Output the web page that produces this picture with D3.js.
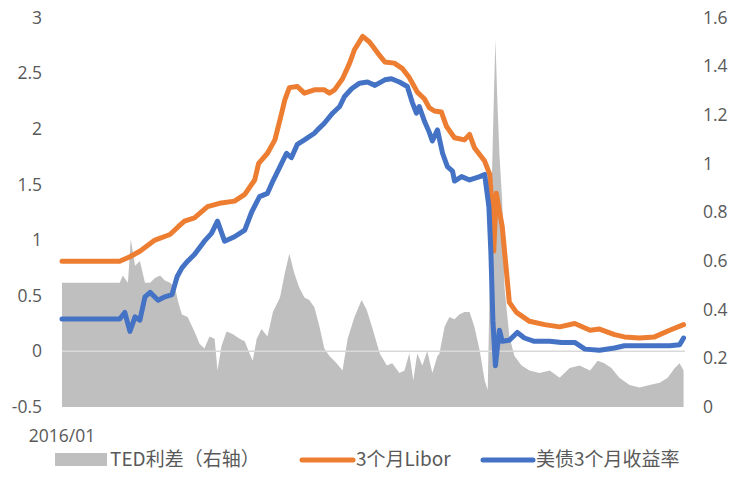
<!DOCTYPE html>
<html>
<head>
<meta charset="utf-8">
<script src="https://cdn.jsdelivr.net/npm/d3@7"></script>
<style>
  body { margin: 0; background: #fff; }
  svg text { fill: #595959; }
</style>
</head>
<body>
<svg id="chart" width="734" height="500"></svg>
<script>
// 3个月Libor（左轴）
var libor = [
  ["2016-01-01",0.81],["2016-07-22",0.81],["2016-08-27",0.85],["2016-10-01",0.90],["2016-11-23",1.00],
  ["2017-01-15",1.05],["2017-02-13",1.12],["2017-03-07",1.17],["2017-04-11",1.20],["2017-05-27",1.30],
  ["2017-07-08",1.33],["2017-08-30",1.35],["2017-10-05",1.41],["2017-11-09",1.54],["2017-11-23",1.69],
  ["2017-12-24",1.78],["2018-01-19",1.90],["2018-02-06",2.08],["2018-02-23",2.26],["2018-03-11",2.37],
  ["2018-04-08",2.38],["2018-05-03",2.32],["2018-06-07",2.35],["2018-07-12",2.35],["2018-07-30",2.32],
  ["2018-08-17",2.35],["2018-09-14",2.45],["2018-10-09",2.59],["2018-10-26",2.71],["2018-11-24",2.83],
  ["2018-12-18",2.78],["2019-01-16",2.68],["2019-02-10",2.60],["2019-03-15",2.59],["2019-04-13",2.54],
  ["2019-05-07",2.46],["2019-06-04",2.33],["2019-06-29",2.27],["2019-07-16",2.19],["2019-08-03",2.16],
  ["2019-08-28",2.15],["2019-09-15",2.02],["2019-10-13",1.92],["2019-11-17",1.90],["2019-12-05",1.95],
  ["2019-12-22",1.83],["2020-01-27",1.71],["2020-02-14",1.59],["2020-02-25",1.18],["2020-02-28",0.90],
  ["2020-03-08",1.42],["2020-03-29",1.12],["2020-04-13",0.71],["2020-04-23",0.44],["2020-05-18",0.35],
  ["2020-07-03",0.27],["2020-08-25",0.24],["2020-10-17",0.22],["2020-12-09",0.25],["2021-02-01",0.19],
  ["2021-03-06",0.20],["2021-04-28",0.15],["2021-06-02",0.13],["2021-07-25",0.12],["2021-09-16",0.13],
  ["2021-11-08",0.19],["2021-12-27",0.24]
];

// 美债3个月收益率（左轴）
var ust3m = [
  ["2016-01-01",0.29],["2016-07-22",0.29],["2016-08-09",0.35],["2016-08-27",0.18],["2016-09-14",0.31],
  ["2016-10-01",0.28],["2016-10-19",0.49],["2016-11-06",0.53],["2016-12-04",0.46],["2016-12-28",0.49],
  ["2017-01-22",0.51],["2017-02-09",0.67],["2017-02-26",0.75],["2017-03-18",0.81],["2017-04-11",0.87],
  ["2017-05-16",0.99],["2017-06-10",1.06],["2017-07-01",1.17],["2017-07-26",0.99],["2017-08-30",1.03],
  ["2017-10-05",1.09],["2017-10-29",1.25],["2017-11-26",1.39],["2017-12-24",1.42],["2018-01-12",1.53],
  ["2018-02-06",1.66],["2018-03-01",1.78],["2018-03-18",1.74],["2018-04-08",1.86],["2018-05-03",1.90],
  ["2018-06-07",1.96],["2018-06-18",1.99],["2018-07-12",2.05],["2018-08-10",2.14],["2018-09-04",2.20],
  ["2018-09-21",2.29],["2018-10-16",2.36],["2018-11-13",2.41],["2018-12-11",2.42],["2019-01-06",2.39],
  ["2019-02-10",2.44],["2019-03-05",2.45],["2019-04-02",2.42],["2019-04-30",2.38],["2019-05-17",2.24],
  ["2019-06-01",2.14],["2019-06-11",2.20],["2019-06-29",2.07],["2019-07-16",1.97],["2019-07-27",1.89],
  ["2019-08-14",1.99],["2019-09-01",1.78],["2019-09-18",1.66],["2019-10-06",1.62],["2019-10-13",1.53],
  ["2019-11-07",1.57],["2019-12-05",1.54],["2020-01-10",1.57],["2020-01-27",1.59],["2020-02-11",1.30],
  ["2020-02-18",0.89],["2020-02-25",0.28],["2020-03-05",-0.13],["2020-03-12",0.04],["2020-03-19",0.19],
  ["2020-03-29",0.09],["2020-04-23",0.10],["2020-05-21",0.17],["2020-06-15",0.12],["2020-07-20",0.09],
  ["2020-09-12",0.09],["2020-10-24",0.08],["2020-12-09",0.08],["2021-01-14",0.02],["2021-03-06",0.01],
  ["2021-04-28",0.03],["2021-06-02",0.05],["2021-07-25",0.05],["2021-09-16",0.05],["2021-11-08",0.05],
  ["2021-12-13",0.06],["2021-12-27",0.12]
];

// TED利差（右轴）
var ted = [
  ["2016-01-01",0.51],["2016-07-22",0.51],["2016-08-02",0.54],["2016-08-20",0.51],["2016-08-30",0.69],
  ["2016-09-14",0.58],["2016-10-01",0.60],["2016-10-19",0.51],["2016-11-06",0.51],["2016-11-23",0.53],
  ["2016-12-11",0.54],["2016-12-28",0.52],["2017-01-15",0.51],["2017-02-02",0.49],["2017-02-13",0.43],
  ["2017-02-26",0.38],["2017-03-18",0.37],["2017-04-11",0.31],["2017-04-29",0.26],["2017-05-16",0.24],
  ["2017-06-03",0.29],["2017-06-21",0.28],["2017-07-01",0.15],["2017-07-15",0.25],["2017-08-02",0.31],
  ["2017-08-23",0.30],["2017-09-17",0.28],["2017-10-05",0.27],["2017-10-22",0.22],["2017-11-02",0.19],
  ["2017-11-16",0.28],["2017-12-03",0.32],["2017-12-24",0.29],["2018-01-12",0.39],["2018-02-06",0.45],
  ["2018-02-23",0.55],["2018-03-11",0.63],["2018-03-28",0.55],["2018-04-15",0.49],["2018-05-03",0.45],
  ["2018-05-20",0.44],["2018-06-07",0.41],["2018-06-25",0.33],["2018-07-12",0.24],["2018-07-30",0.21],
  ["2018-08-24",0.18],["2018-09-14",0.15],["2018-10-02",0.28],["2018-10-26",0.37],["2018-11-20",0.44],
  ["2018-12-08",0.40],["2018-12-29",0.32],["2019-01-23",0.22],["2019-02-17",0.17],["2019-03-08",0.18],
  ["2019-04-02",0.14],["2019-04-20",0.15],["2019-05-07",0.22],["2019-05-21",0.11],["2019-06-04",0.22],
  ["2019-06-22",0.17],["2019-07-09",0.23],["2019-07-27",0.14],["2019-08-14",0.21],["2019-08-21",0.22],
  ["2019-09-08",0.33],["2019-09-25",0.37],["2019-10-13",0.36],["2019-10-30",0.38],["2019-11-17",0.39],
  ["2019-12-05",0.39],["2019-12-22",0.33],["2020-01-10",0.23],["2020-01-27",0.11],["2020-02-07",0.07],
  ["2020-02-18",0.77],["2020-02-28",1.25],["2020-03-05",1.51],["2020-03-12",1.25],["2020-03-19",1.04],
  ["2020-03-29",0.84],["2020-04-06",0.49],["2020-04-23",0.29],["2020-05-11",0.21],["2020-06-05",0.17],
  ["2020-07-03",0.15],["2020-08-07",0.14],["2020-09-12",0.15],["2020-10-17",0.12],["2020-11-21",0.16],
  ["2020-12-26",0.17],["2021-02-01",0.15],["2021-02-28",0.19],["2021-03-23",0.18],["2021-04-17",0.16],
  ["2021-05-15",0.12],["2021-06-20",0.09],["2021-07-25",0.08],["2021-08-29",0.09],["2021-10-04",0.10],
  ["2021-11-01",0.12],["2021-11-26",0.16],["2021-12-13",0.18],["2021-12-27",0.15]
];

var leftTicks = [-0.5, 0, 0.5, 1, 1.5, 2, 2.5, 3];
var rightTicks = [0, 0.2, 0.4, 0.6, 0.8, 1, 1.2, 1.4, 1.6];
var xLabel = "2016/01";
var legendNames = ["TED利差（右轴）", "3个月Libor", "美债3个月收益率"];

var parse = d3.timeParse("%Y-%m-%d");
var svg = d3.select("#chart");

var x = d3.scaleTime()
  .domain([parse("2016-01-01"), parse("2022-01-01")])
  .range([62, 685]);
var yL = d3.scaleLinear().domain([-0.5, 3]).range([407, 17.5]);
var yR = d3.scaleLinear().domain([0, 1.6]).range([407, 17.5]);

// TED area
var area = d3.area()
  .x(function(d) { return x(parse(d[0])); })
  .y0(yR(0))
  .y1(function(d) { return yR(d[1]); });
svg.append("path")
  .datum(ted)
  .attr("d", area)
  .attr("fill", "#bfbfbf");

// zero line of left axis
svg.append("line")
  .attr("x1", 62).attr("x2", 685)
  .attr("y1", yL(0)).attr("y2", yL(0))
  .attr("stroke", "#d9d9d9").attr("stroke-width", 1.5);

function lineL() {
  return d3.line()
    .x(function(d) { return x(parse(d[0])); })
    .y(function(d) { return yL(d[1]); });
}
svg.append("path").datum(libor).attr("d", lineL())
  .attr("fill", "none").attr("stroke", "#ed7d31").attr("stroke-width", 5)
  .attr("stroke-linejoin", "round").attr("stroke-linecap", "round");
svg.append("path").datum(ust3m).attr("d", lineL())
  .attr("fill", "none").attr("stroke", "#4472c4").attr("stroke-width", 5)
  .attr("stroke-linejoin", "round").attr("stroke-linecap", "round");

// axes
var fmt = function(d) { return String(d); };
var gl = svg.append("g").attr("transform", "translate(45,0)")
  .call(d3.axisLeft(yL).tickValues(leftTicks).tickSize(0).tickPadding(3).tickFormat(fmt));
var gr = svg.append("g").attr("transform", "translate(700,0)")
  .call(d3.axisRight(yR).tickValues(rightTicks).tickSize(0).tickPadding(3).tickFormat(fmt));
[gl, gr].forEach(function(g) {
  g.select(".domain").remove();
  g.selectAll("text").attr("font-family", "'Open Sans', sans-serif").attr("font-size", 17.5).style("fill", "#595959");
});

svg.append("text")
  .attr("x", x(parse("2016-01-01"))).attr("y", 442)
  .attr("text-anchor", "middle")
  .attr("font-family", "'Open Sans', sans-serif").attr("font-size", 17.5)
  .text(xLabel);

// legend
var lg = svg.append("g").attr("font-family", "'Noto Sans CJK SC', sans-serif").attr("font-size", 19);
lg.append("rect").attr("x", 55).attr("y", 453).attr("width", 52).attr("height", 13).attr("fill", "#bfbfbf");
lg.append("text").attr("x", 110).attr("y", 466).text(legendNames[0]);
lg.append("line").attr("x1", 302).attr("x2", 353).attr("y1", 460).attr("y2", 460)
  .attr("stroke", "#ed7d31").attr("stroke-width", 5).attr("stroke-linecap", "round");
lg.append("text").attr("x", 356).attr("y", 466).text(legendNames[1]);
lg.append("line").attr("x1", 483).attr("x2", 533).attr("y1", 460).attr("y2", 460)
  .attr("stroke", "#4472c4").attr("stroke-width", 5).attr("stroke-linecap", "round");
lg.append("text").attr("x", 536).attr("y", 466).text(legendNames[2]);
</script>
</body>
</html>
